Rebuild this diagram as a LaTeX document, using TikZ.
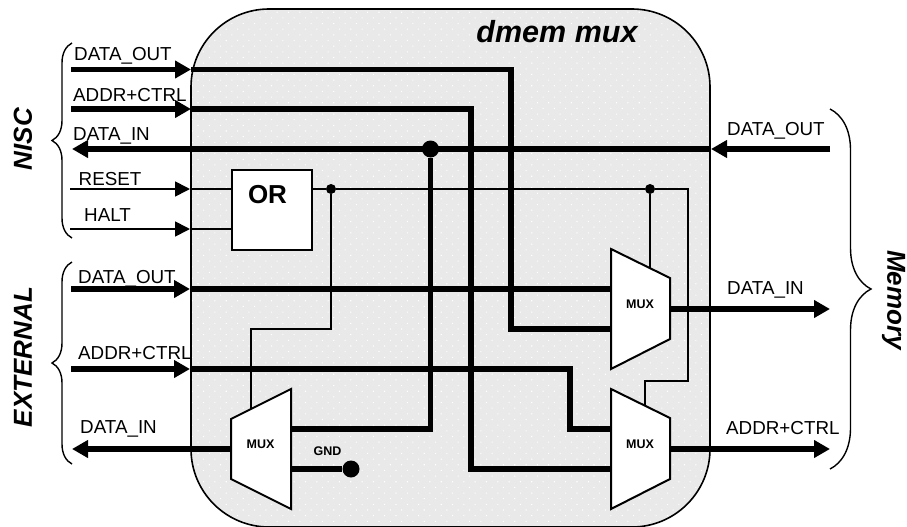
\documentclass[tikz,border=0pt]{standalone}
\usepackage{fontspec}
\setmainfont{Liberation Sans}
\usetikzlibrary{arrows.meta,decorations.pathreplacing,patterns.meta}
\definecolor{muxback}{HTML}{E9E9E9}

\begin{document}
\begin{tikzpicture}[
    x=1pt, y=-1pt,      % one unit is one pixel, y runs downwards
    bus/.style={line width=5.8pt},
    busin/.style={bus, -{Triangle[length=16pt,width=17pt]}},
    ctrl/.style={line width=1.7pt},
    ctrlin/.style={ctrl, -{Triangle[length=15pt,width=15pt]}},
    muxbox/.style={draw, fill=white, line width=2pt, line join=miter},
    pinname/.style={font=\fontsize{18.8}{20}\selectfont, anchor=base west, inner sep=0pt},
    muxname/.style={font=\fontsize{12.5}{13}\selectfont\bfseries, inner sep=0pt},
    sidename/.style={font=\fontsize{26}{28}\selectfont\bfseries\itshape, inner sep=0pt},
    bracket/.style={draw, line width=1.4pt, decorate, decoration={brace, amplitude=#1}},
]
\useasboundingbox (0,0) rectangle (907,527);

% --- Bloque dmem mux ---
\path[fill=muxback] (191,9) [rounded corners=78pt] rectangle (710,527);
\path[pattern={Dots[distance=8pt, angle=45, radius=0.75pt]}, pattern color=white, rounded corners=78pt] (191,9) rectangle (710,527);
\draw[line width=1.6pt, rounded corners=78pt] (191,9) rectangle (710,527);
\node[font=\fontsize{30.5}{32}\selectfont\bfseries\itshape, inner sep=0pt, anchor=base] (title) at (557,43) {dmem mux};

% --- Puntos de conexion ---
\coordinate (nout) at (71,69.5);    \coordinate (noutb) at (191,69.5);
\coordinate (nadd) at (71,109);     \coordinate (naddb) at (191,109);
\coordinate (nin) at (72,149);
\coordinate (nres) at (70,189);     \coordinate (nresb) at (190,189);
\coordinate (nhlt) at (70,229);     \coordinate (nhltb) at (190,229);
\coordinate (eout) at (71,289);     \coordinate (eoutb) at (190,289);
\coordinate (eadd) at (71,369);     \coordinate (eaddb) at (190,369);
\coordinate (ein) at (72,449);
\coordinate (mout) at (830,149);    \coordinate (moutb) at (711,149);
\coordinate (min) at (830,309);
\coordinate (madd) at (830,449);

% --- Nudos ---
\node[circle, fill, inner sep=0pt, minimum size=17pt] (jdata) at (430.5,149) {};
\node[circle, fill, inner sep=0pt, minimum size=10pt] (jor) at (331,189) {};
\node[circle, fill, inner sep=0pt, minimum size=10pt] (jsel) at (650,189) {};
\node[circle, fill, inner sep=0pt, minimum size=17pt] (gnd) at (351,469) {};

% --- Entradas desde NISC y EXTERNAL ---
\draw[busin] (nout) -- (noutb);
\draw[busin] (nadd) -- (naddb);
\draw[ctrlin] (nres) -- (nresb);
\draw[ctrlin] (nhlt) -- (nhltb);
\draw[busin] (eout) -- (eoutb);
\draw[busin] (eadd) -- (eaddb);

% --- Buses internos ---
\draw[bus] (noutb) -- (511,69.5) |- (611,329);
\draw[bus] (naddb) -- (471,109) |- (611,469);
\draw[bus] (eoutb) -- (611,289);
\draw[bus] (eaddb) -- (570,369) |- (611,429);
\draw[bus] (jdata) |- (291,429);
\draw[bus] (291,469) -- (gnd);
\draw[busin] (moutb) -- (nin);
\draw[busin] (mout) -- (moutb);

% --- Puerta OR ---
\node[draw, fill=white, line width=2pt, minimum size=80pt, inner sep=0pt, anchor=north west] (orgate) at (231,169) {};
\node[font=\fontsize{26}{28}\selectfont\bfseries, inner sep=0pt, anchor=base] (ortext) at (267.5,203) {OR};
\draw[ctrl] (nresb) -- (orgate.west |- nresb);
\draw[ctrl] (nhltb) -- (orgate.west |- nhltb);

% --- Senales de seleccion ---
\draw[ctrl] (orgate.east |- jor) -- (jor) -- (jsel) -- (688,189) -- (688,381) -- (645,381) -- (645,408);
\draw[ctrl] (jor) -- (331,329) -- (251,329) -- (251,411);
\draw[ctrl] (jsel) -- (650,275);

% --- Multiplexores ---
\draw[muxbox] (611,249) -- (670,278) -- (670,339) -- (611,369) -- cycle;
\draw[muxbox] (611,389) -- (670,418) -- (670,479) -- (611,509) -- cycle;
\draw[muxbox] (291,389) -- (231,419) -- (231,479) -- (291,509) -- cycle;
\node[muxname] (muxin) at (640,304) {MUX};
\node[muxname] (muxadd) at (640,444) {MUX};
\node[muxname] (muxext) at (260.5,444) {MUX};
\node[muxname] (gndname) at (327.5,451) {GND};

% --- Salidas de los multiplexores ---
\draw[busin] (670,309) -- (min);
\draw[busin] (670,449) -- (madd);
\draw[busin] (231,449) -- (ein);

% --- Etiquetas ---
\node[pinname] (lnout) at (74,60) {DATA\_OUT};
\node[pinname] (lnadd) at (73,101) {ADDR+CTRL};
\node[pinname] (lnin) at (73,140) {DATA\_IN};
\node[pinname] (lnres) at (78.5,185) {RESET};
\node[pinname] (lnhlt) at (84,221) {HALT};
\node[pinname] (leout) at (78,283) {DATA\_OUT};
\node[pinname] (leadd) at (78,359) {ADDR+CTRL};
\node[pinname] (lein) at (80,433) {DATA\_IN};
\node[pinname] (lmout) at (727,135) {DATA\_OUT};
\node[pinname] (lmin) at (727,294) {DATA\_IN};
\node[pinname] (lmadd) at (726,434) {ADDR+CTRL};

% --- Llaves y grupos ---
\draw[bracket=20pt] (72,238) -- (72,43);
\draw[bracket=20pt] (72,464) -- (72,262);
\draw[bracket=41pt] (830,109) -- (830,469);
\node[sidename, rotate=90] (nisc) at (23,139) {NISC};
\node[sidename, rotate=90] (external) at (23,357) {EXTERNAL};
\node[sidename, rotate=-90] (memory) at (893.5,300) {Memory};

\end{tikzpicture}
\end{document}
